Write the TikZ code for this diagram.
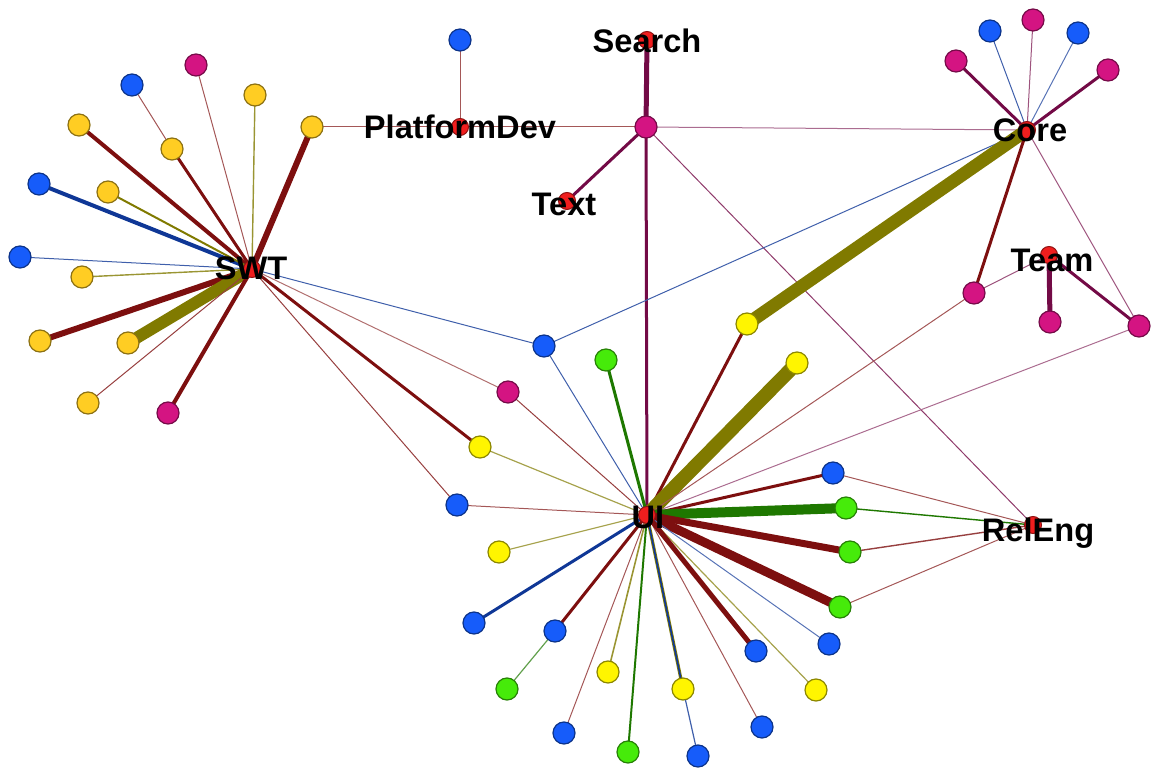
\documentclass[tikz,border=0pt]{standalone}
\usepackage{fontspec}
\setmainfont{Liberation Sans}
\definecolor{NodeBlue}{RGB}{22,92,250}
\definecolor{NodeMagenta}{RGB}{212,20,130}
\definecolor{NodeGold}{RGB}{255,205,35}
\definecolor{NodeYellow}{RGB}{255,245,0}
\definecolor{NodeGreen}{RGB}{70,235,10}
\definecolor{HubRed}{RGB}{240,30,30}
\definecolor{EdgeRed}{RGB}{125,15,15}
\definecolor{EdgeOlive}{RGB}{128,122,0}
\definecolor{EdgeBlue}{RGB}{15,55,150}
\definecolor{EdgeGreen}{RGB}{30,120,0}
\definecolor{EdgePurple}{RGB}{115,10,70}
\usetikzlibrary{calc}
\pgfdeclarelayer{edges}
\pgfsetlayers{edges,main}

\begin{document}
\begin{tikzpicture}[x=0.5pt,y=-0.5pt,
  leaf/.style={circle,draw=#1!55!black,fill=#1,line width=0.6pt,minimum size=11pt,inner sep=0pt},
  hub/.style={circle,draw=HubRed!60!black,fill=HubRed,line width=0.5pt,minimum size=8.5pt,inner sep=0pt},
  hublabel/.style={font=\bfseries\fontsize{16.3}{18}\selectfont,text=black,inner sep=0pt}]
  \useasboundingbox (0,0) rectangle (1156,769);

  % hubs
  \node[hub] (swt) at (252,269) {};
  \node[hub] (pd) at (460,127) {};
  \node[hub] (search) at (647,40) {};
  \node[hub] (text) at (567,201) {};
  \node[hub] (core) at (1027,130) {};
  \node[hub] (team) at (1049,255) {};
  \node[hub] (ui) at (647,515) {};
  \node[hub] (releng) at (1033,525) {};

  % leaves
  \foreach \n/\x/\y in {sb1/132/85,sb2/39/184,sb3/20/257,mb1/544/346,mb2/457/505,pb/460/40,
      cb1/990/31,cb2/1078/33,rb/833/473,ub1/829/644,ub2/762/727,ub3/756/651,ub4/698/756,
      ub5/564/733,ub6/555/631,ub7/474/623}
    \node[leaf=NodeBlue] (\n) at (\x,\y) {};
  \foreach \n/\x/\y in {sy1/172/149,sy2/255/95,sy3/312/127,sy4/79/125,sy5/108/192,
      sy6/82/277,sy7/40/341,sy8/128/343,sy9/88/403}
    \node[leaf=NodeGold] (\n) at (\x,\y) {};
  \foreach \n/\x/\y in {my1/480/447,uy1/747/324,uy2/797/363,uy3/816/690,uy4/683/689,
      uy5/608/672,uy6/499/552}
    \node[leaf=NodeYellow] (\n) at (\x,\y) {};
  \foreach \n/\x/\y in {sm1/196/65,sm2/168/413,mm1/508/392,mc/646/127,cm1/956/61,cm2/1033/20,
      cm3/1108/70,tm1/974/293,tm2/1050/322,tm3/1139/326}
    \node[leaf=NodeMagenta] (\n) at (\x,\y) {};
  \foreach \n/\x/\y in {ug1/606/360,rg1/846/508,rg2/850/552,rg3/840/607,ug2/628/752,ug3/507/689}
    \node[leaf=NodeGreen] (\n) at (\x,\y) {};

  % hub labels
  \node[hublabel] (swt-l) at (251,268) {SWT};
  \node[hublabel] (pd-l) at (460,127) {PlatformDev};
  \node[hublabel] (search-l) at (647,41) {Search};
  \node[hublabel] (text-l) at (564,204) {Text};
  \node[hublabel] (core-l) at (1030,130) {Core};
  \node[hublabel] (team-l) at (1052,260) {Team};
  \node[hublabel] (ui-l) at (648,517) {UI};
  \node[hublabel] (releng-l) at (1038,533) {RelEng};

  \begin{pgfonlayer}{edges}
    % a/b/width/colour
    \foreach \a/\b/\w/\c in {swt/sm1/0.5/EdgeRed!70,swt/sy1/1.5/EdgeRed,sy1/sb1/0.5/EdgeRed!70,
        swt/sy2/0.7/EdgeOlive!80,swt/sy3/3/EdgeRed,swt/sy4/2/EdgeRed,swt/sb2/2/EdgeBlue,
        swt/sy5/1/EdgeOlive,swt/sb3/0.5/EdgeBlue!80,swt/sy6/0.7/EdgeOlive!80,swt/sy7/3/EdgeRed,
        swt/sy8/6/EdgeOlive,swt/sy9/0.5/EdgeRed!80,swt/sm2/2/EdgeRed,swt/mb1/0.5/EdgeBlue!80,
        swt/mm1/0.5/EdgeRed!60,swt/my1/1.5/EdgeRed,swt/mb2/0.5/EdgeRed!80,
        pd/pb/0.5/EdgeRed!70,pd/sy3/0.5/EdgeRed!70,pd/mc/0.5/EdgeRed!70,
        mc/search/2.5/EdgePurple,mc/text/1.5/EdgePurple,mc/ui/1.5/EdgePurple,
        mc/core/0.5/EdgePurple!60,mc/releng/0.5/EdgePurple!80,
        core/cm1/1.5/EdgePurple,core/cb1/0.5/EdgeBlue!80,core/cm2/0.5/EdgePurple!70,
        core/cb2/0.5/EdgeBlue!70,core/cm3/1.5/EdgePurple,core/mb1/0.5/EdgeBlue!80,
        core/uy1/6.5/EdgeOlive,core/tm1/1.5/EdgeRed,core/tm3/0.5/EdgePurple!70,
        team/tm1/0.5/EdgePurple!70,team/tm2/2.5/EdgePurple,team/tm3/1.5/EdgePurple,
        ui/mb1/0.5/EdgeBlue!80,ui/mm1/0.5/EdgeRed!80,ui/my1/0.6/EdgeOlive!70,ui/mb2/0.5/EdgeRed!70,
        ui/ug1/1.5/EdgeGreen,ui/uy1/1.5/EdgeRed,ui/uy2/7/EdgeOlive,ui/tm1/0.5/EdgeRed!70,
        ui/tm3/0.5/EdgePurple!60,ui/rb/1.5/EdgeRed,ui/rg1/5/EdgeGreen,ui/rg2/3.5/EdgeRed,
        ui/rg3/4.5/EdgeRed,ui/ub1/0.5/EdgeBlue!70,ui/uy3/0.6/EdgeOlive!70,ui/ub2/0.5/EdgeRed!70,
        ui/ub3/2.5/EdgeRed,ui/uy4/1.6/EdgeOlive,ui/uy4/0.8/EdgeBlue,uy4/ub4/0.6/EdgeBlue!80,
        ui/ug2/1/EdgeGreen,ui/uy5/0.8/EdgeOlive!80,ui/ub5/0.5/EdgeRed!70,ui/ub6/1.5/EdgeRed,
        ub6/ug3/0.6/EdgeGreen!70,ui/ub7/1.5/EdgeBlue,ui/uy6/0.6/EdgeOlive!70,
        releng/rb/0.5/EdgeRed!70,releng/rg1/0.7/EdgeGreen,releng/rg2/0.7/EdgeRed!80,
        releng/rg3/0.5/EdgeRed!70}
      \draw[line width=\w pt,\c] (\a.center) -- (\b.center);
  \end{pgfonlayer}
\end{tikzpicture}
\end{document}
